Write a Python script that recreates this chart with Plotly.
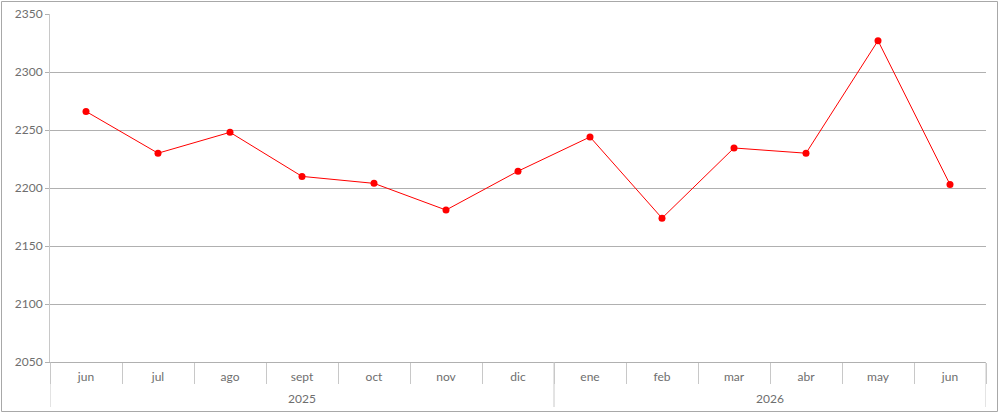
import plotly.graph_objects as go

months = ["jun", "jul", "ago", "sept", "oct", "nov", "dic",
          "ene", "feb", "mar", "abr", "may", "jun"]
years = ["2025", "2026"]
year_spans = [(0, 6), (7, 12)]  # first and last month index of each year
values = [2266, 2230, 2248, 2210, 2204, 2181, 2214.5,
          2244, 2174, 2234.5, 2230, 2327, 2203]
y_ticks = [2050, 2100, 2150, 2200, 2250, 2300, 2350]

FONT = "Lato"
GREY = "#6e6e6e"
GRID = "#b0b0b0"
DIV = "#c8c8c8"

idx = list(range(len(months)))
boundaries = [i - 0.5 for i in range(len(months) + 1)]

fig = go.Figure()
fig.add_trace(go.Scatter(
    x=idx, y=values, mode="lines+markers",
    line=dict(color="#ff0000", width=1),
    marker=dict(color="#ff0000", size=7),
    showlegend=False, hoverinfo="skip",
))

PH = 348.0  # plot height in px
PW = 936.0  # plot width in px
shapes = []
year_bounds = sorted({s - 0.5 for s, e in year_spans} | {e + 0.5 for s, e in year_spans})
for b in year_bounds:
    shapes.append(dict(type="line", xref="x", yref="paper",
                       x0=b, x1=b, y0=0, y1=-45 / PH,
                       line=dict(color=DIV, width=1)))
shapes.append(dict(type="rect", xref="paper", yref="paper",
                   x0=-48.5 / PW, x1=1 + 11.5 / PW,
                   y0=-49.5 / PH, y1=1 + 12.5 / PH,
                   line=dict(color="#a8a8a8", width=1), layer="below"))

annotations = []
for name, (s, e) in zip(years, year_spans):
    annotations.append(dict(x=(s + e) / 2, y=-36 / PH, xref="x", yref="paper",
                            text=name, showarrow=False, yanchor="middle",
                            font=dict(family=FONT, size=12, color=GREY)))

fig.update_layout(
    width=1000, height=416,
    margin=dict(l=50, r=14, t=14, b=54, autoexpand=False),
    paper_bgcolor="white", plot_bgcolor="white",
    font=dict(family=FONT, size=12, color=GREY),
    xaxis=dict(
        range=[-0.5, 12.5], tickmode="array", tickvals=idx, ticktext=months,
        showgrid=False, zeroline=False, automargin=False,
        showline=True, linecolor=GRID, linewidth=1,
        ticks="outside", ticklen=4, tickcolor="rgba(0,0,0,0)",
        tickfont=dict(family=FONT, size=12, color=GREY),
        minor=dict(tickmode="array", tickvals=boundaries, ticks="outside",
                   ticklen=21, tickcolor=DIV, tickwidth=1, showgrid=False),
    ),
    yaxis=dict(
        range=[2050, 2350], tickvals=y_ticks, automargin=False,
        showgrid=True, gridcolor=GRID, gridwidth=1,
        showline=True, linecolor=DIV, linewidth=1,
        ticks="outside", ticklen=4, tickcolor=GRID,
        tickfont=dict(family=FONT, size=12, color=GREY),
        zeroline=False,
    ),
    shapes=shapes,
    annotations=annotations,
)

fig.write_html("out.html", config={"displayModeBar": False},
               post_script="document.body.style.margin='0';document.body.style.overflow='hidden';")
